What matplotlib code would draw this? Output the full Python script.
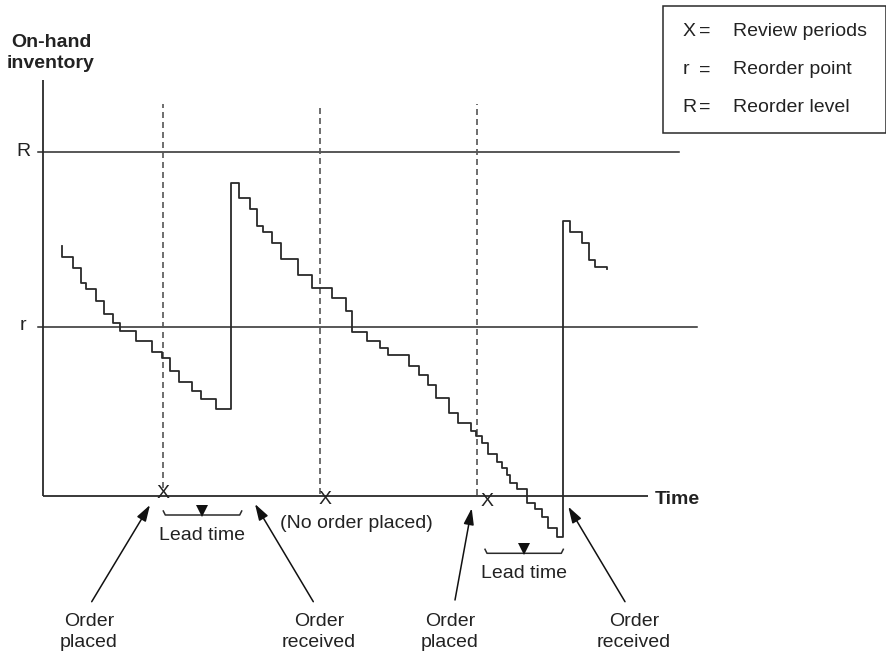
import matplotlib
matplotlib.use("Agg")
import matplotlib.pyplot as plt

plt.rcParams['font.family'] = ['Liberation Sans', 'DejaVu Sans']

# ---- data (time units, inventory units) ----
# step inventory path: change times (last value = end of path) and levels
step_times = [18.7, 30.3, 37.7, 43, 53.5, 61, 69.7, 77, 93.5, 108.7, 119.5, 127.5,
              136.3, 149, 158.3, 172.7, 187.7, 195.7, 207, 214, 219.7, 229.5, 237.7,
              255.5, 269.5, 289, 303, 308.7, 323.7, 337, 345.3, 366.3, 376, 385.3,
              393, 406.3, 414.7, 427.7, 433, 438.7, 445.3, 453.7, 458.7, 463.7, 467,
              474.3, 483.7, 492, 498.7, 505.3, 513.7, 519.7, 527, 538.7, 546.3, 552,
              564.3, 564.3]
step_levels = [250, 239.3, 228.3, 213.3, 207, 195.5, 182, 173.3, 165.3, 155, 144, 138,
               125.3, 113.7, 105.3, 96.7, 86.7, 312.7, 297.7, 286.7, 270.2, 264.3,
               253.3, 237.5, 221.4, 208.3, 198.3, 185, 163.7, 155.3, 147.7, 141,
               130.3, 121, 111, 97.7, 83.3, 73.3, 65, 60, 53.3, 42, 34.3, 27.7, 21,
               13.3, 6.7, -6.7, -13.3, -20.7, -31.7, -40.7, 275, 263.7, 252.7, 236,
               229.3, 227]

R_level = 344          # reorder level
r_level = 169          # reorder point
review_times = [119.7, 277, 433.7]       # dashed review lines
review_marks_t = [120.3, 282, 443.7]     # "X" marks
review_marks_y = [3, -3, -4]
review_top = 392

legend_symbols = ["X", "r", "R"]
legend_labels = ["Review periods", "Reorder point", "Reorder level"]

lead_brackets = [(120.3, 198.7, -19), (442, 520.3, -57.3)]
lead_labels_pos = [(159.5, -39), (481, -77.3)]

annot_texts = ["Order\nplaced", "Order\nreceived", "Order\nplaced", "Order\nreceived"]
annot_text_t = [45.8, 276, 407, 591]
annot_tail = [(48.7, -105.7), (270.3, -105.7), (412, -104), (582, -105.7)]
annot_head = [(107, -9), (212, -8), (428.7, -12.3), (525.3, -10.7)]

# ---- figure ----
fig = plt.figure(figsize=(8.87, 6.59), dpi=100)
ax = fig.add_axes([0, 0, 1, 1])
ax.set_xlim(-43, 844)
ax.set_ylim(-163, 496)
ax.axis('off')

LC = '#2a2a2a'
FS = 14

# axes
ax.plot([0, 0], [0, 416], color=LC, lw=1.3, solid_capstyle='butt')
ax.plot([0, 605], [0, 0], color=LC, lw=1.3, solid_capstyle='butt')

# R and r lines
ax.plot([-5, 636], [R_level, R_level], color=LC, lw=1.1)
ax.plot([-5, 654], [r_level, r_level], color=LC, lw=1.1)
ax.text(-20, R_level, "R", fontsize=FS, ha='center', va='center', color='#222')
ax.text(-20, r_level + 2, "r", fontsize=FS, ha='center', va='center', color='#222')

# review dashed lines
for t, my in zip(review_times, review_marks_y):
    ax.plot([t, t], [my + 5, review_top], color='#555', lw=1.2,
            linestyle=(0, (3.6, 2.4)))
for t, my in zip(review_marks_t, review_marks_y):
    ax.text(t, my - 1, "X", fontsize=14, ha='center', va='center', color='#222')

# inventory step path
ax.step(step_times, step_levels, where='pre', color=LC, lw=1.3)

# labels
ax.text(8, 443, "On-hand\ninventory", fontsize=14, fontweight='bold',
        ha='center', va='center', linespacing=1.3, color='#222')
ax.text(612, -4, "Time", fontsize=14, fontweight='bold', ha='left', va='center',
        color='#222')
ax.text(313.7, -27.3, "(No order placed)", fontsize=FS, ha='center', va='center',
        color='#222')

# lead time brackets
for (x0, x1, y), (lx, ly) in zip(lead_brackets, lead_labels_pos):
    ax.plot([x0, x0 + 2, x1 - 2, x1], [y + 4, y, y, y + 4], color=LC, lw=1.1)
    ax.plot([(x0 + x1) / 2], [y + 4.5], marker='v', color='#111', ms=8.5, mew=0)
    ax.text(lx, ly, "Lead time", fontsize=FS, ha='center', va='center', color='#222')

# annotations
for txt, tt, tail, head in zip(annot_texts, annot_text_t, annot_tail, annot_head):
    ax.annotate("", xy=head, xytext=tail,
                arrowprops=dict(arrowstyle='-|>,head_length=0.7,head_width=0.22',
                                color='#111', lw=1.1, shrinkA=0, shrinkB=0),
                fontsize=FS)
    ax.text(tt, -136, txt, fontsize=FS, ha='center', va='center',
            linespacing=1.25, color='#222')

# legend box
ax.add_patch(plt.Rectangle((620.5, 363.5), 222.5, 127, fill=False,
                           edgecolor=LC, lw=1.1))
leg_y = [464.3, 426, 389]
for sym, lab, y in zip(legend_symbols, legend_labels, leg_y):
    ax.text(639.5, y, sym, fontsize=FS, ha='left', va='center', color='#222')
    ax.text(661.5, y, "=", fontsize=FS, ha='center', va='center', color='#222')
    ax.text(690, y, lab, fontsize=FS, ha='left', va='center', color='#222')

fig.savefig("out.png", dpi=100)
